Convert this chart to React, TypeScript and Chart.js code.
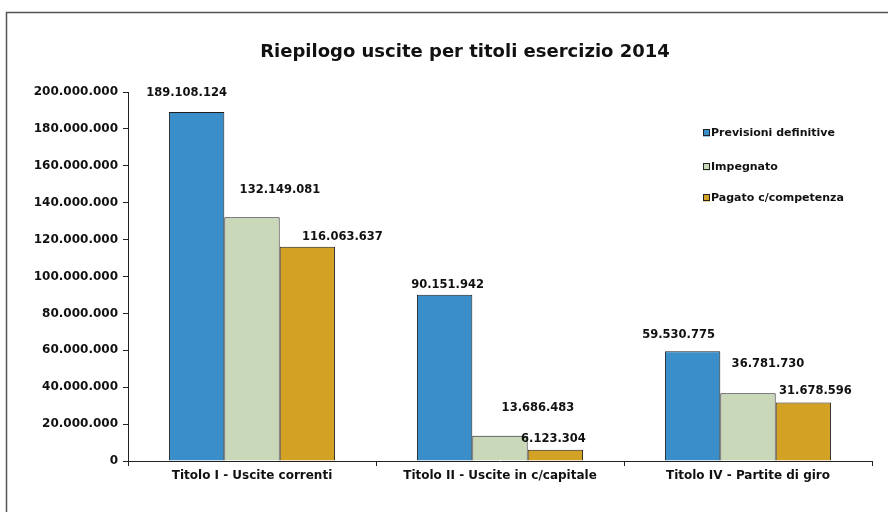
import React, { useEffect, useRef } from "react";
import { Chart, registerables } from "chart.js";

Chart.register(...registerables);

const categories = [
  "Titolo I - Uscite correnti",
  "Titolo II - Uscite in c/capitale",
  "Titolo IV - Partite di giro",
];
const previsioni = [189108124, 90151942, 59530775];
const impegnato = [132149081, 13686483, 36781730];
const pagato = [116063637, 6123304, 31678596];
const seriesNames = ["Previsioni definitive", "Impegnato", "Pagato c/competenza"];
const seriesColors = ["#3a8fcb", "#c8d8b8", "#d3a124"];
const yTicks = { min: 0, max: 200000000, step: 20000000 };
const titleText = "Riepilogo uscite per titoli esercizio 2014";

// label nudges (dx, dy from bar top to text centre) in px, per series per category
const labelNudgeX = [
  [-10, 3, -14],
  [28, 38, 20],
  [35, -2, 12],
];
const labelNudgeY = [
  [-19, -10, -16],
  [-27, -28, -29],
  [-10, -11, -12],
];

const FONT = "'DejaVu Sans', Verdana, sans-serif";

function fmt(n: number): string {
  return String(n).replace(/\B(?=(\d{3})+(?!\d))/g, ".");
}

const decorPlugin = {
  id: "decor",
  beforeDraw(chart: any) {
    const ctx = chart.ctx;
    ctx.save();
    ctx.fillStyle = "#ffffff";
    ctx.fillRect(0, 0, chart.width, chart.height);
    ctx.strokeStyle = "#555555";
    ctx.lineWidth = 1.5;
    ctx.beginPath();
    ctx.moveTo(6.5, 520);
    ctx.lineTo(6.5, 12.5);
    ctx.lineTo(900, 12.5);
    ctx.stroke();
    ctx.restore();
  },
  afterDraw(chart: any) {
    const ctx = chart.ctx;
    ctx.save();
    // title
    ctx.fillStyle = "#111111";
    ctx.font = `bold 18px ${FONT}`;
    ctx.textAlign = "center";
    ctx.textBaseline = "middle";
    ctx.fillText(titleText, 465, 52);
    // legend
    ctx.font = `bold 11px ${FONT}`;
    ctx.textAlign = "left";
    const ly = [133, 167, 198];
    seriesNames.forEach((name, i) => {
      ctx.fillStyle = seriesColors[i];
      ctx.fillRect(703, ly[i] - 3.5, 7, 7);
      ctx.strokeStyle = "#222222";
      ctx.lineWidth = 1;
      ctx.strokeRect(703.5, ly[i] - 3.5, 6, 6);
      ctx.fillStyle = "#111111";
      ctx.fillText(name, 711, ly[i] + 0.5);
    });
    // data labels
    ctx.font = `bold 11.5px ${FONT}`;
    ctx.textAlign = "center";
    ctx.textBaseline = "middle";
    chart.data.datasets.forEach((ds: any, di: number) => {
      const meta = chart.getDatasetMeta(di);
      meta.data.forEach((bar: any, i: number) => {
        ctx.fillStyle = "#111111";
        ctx.fillText(
          fmt(ds.data[i]),
          bar.x + labelNudgeX[di][i],
          bar.y + labelNudgeY[di][i]
        );
      });
    });
    ctx.restore();
  },
};

export default function App() {
  const ref = useRef<HTMLCanvasElement | null>(null);
  useEffect(() => {
    if (!ref.current) return;
    const chart = new Chart(ref.current, {
      type: "bar",
      data: {
        labels: categories,
        datasets: [previsioni, impegnato, pagato].map((d, i) => ({
          label: seriesNames[i],
          data: d,
          backgroundColor: seriesColors[i],
          borderColor: "#1e1e1e",
          borderWidth: 1,
          categoryPercentage: 0.67,
          barPercentage: 1.0,
        })),
      },
      options: {
        responsive: false,
        animation: false,
        layout: { padding: { top: 92, right: 16, left: 0, bottom: 0 } },
        plugins: {
          legend: { display: false },
          title: { display: false },
          tooltip: { enabled: false },
        },
        scales: {
          x: {
            afterFit: (s: any) => {
              s.height = 51;
            },
            grid: {
              offset: true,
              drawOnChartArea: false,
              tickLength: 5,
              color: "#222222",
            },
            border: { color: "#222222", width: 1 },
            ticks: {
              color: "#111111",
              font: { family: FONT, size: 12, weight: "bold" },
              padding: 3,
              maxRotation: 0,
            },
          },
          y: {
            min: yTicks.min,
            max: yTicks.max,
            afterFit: (s: any) => {
              s.width = 128;
            },
            grid: {
              drawOnChartArea: false,
              tickLength: 5,
              color: "#222222",
            },
            border: { color: "#222222", width: 1 },
            ticks: {
              stepSize: yTicks.step,
              color: "#111111",
              padding: 5,
              font: { family: FONT, size: 12, weight: "bold" },
              callback: (v: any) => fmt(Number(v)),
            },
          },
        },
      },
      plugins: [decorPlugin],
    });
    return () => chart.destroy();
  }, []);
  return (
    <div style={{ position: "absolute", left: 0, top: 0, width: 888, height: 512 }}>
      <canvas ref={ref} width={888} height={512} style={{ width: 888, height: 512 }} />
    </div>
  );
}
